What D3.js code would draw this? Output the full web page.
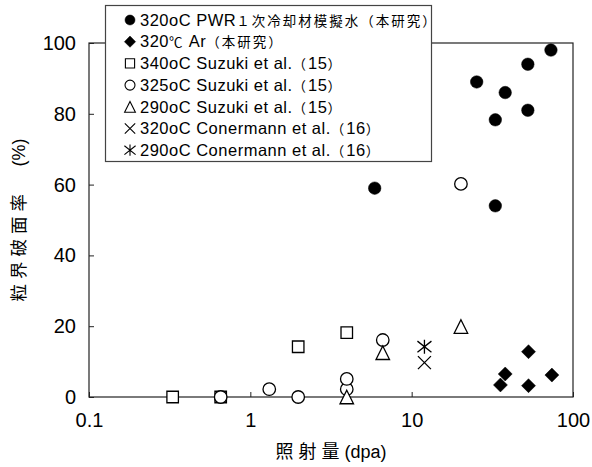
<!DOCTYPE html>
<html>
<head>
<meta charset="utf-8">
<script src="https://cdn.jsdelivr.net/npm/d3@7"></script>
<style>
  body { margin: 0; background: #fff; }
  svg { display: block; }
</style>
</head>
<body>
<svg id="chart"></svg>
<script>
// data
const pwrX = [5.9, 25.3, 33, 33, 38, 52.5, 52.5, 73]
const pwrY = [59, 89, 54, 78.3, 86, 94, 81, 98]
const arX = [35.5, 38, 53, 53, 74]
const arY = [3.4, 6.5, 12.8, 3.2, 6.2]
const suz340X = [0.33, 0.655, 1.98, 3.96]
const suz340Y = [0, 0, 14.2, 18.2]
const suz325X = [0.655, 1.31, 1.98, 3.96, 3.96, 6.62, 20.2]
const suz325Y = [0, 2.2, 0, 2.2, 5.1, 16.1, 60.2]
const suz290X = [3.96, 6.62, 20.2]
const suz290Y = [0, 12.5, 19.9]
const con320X = [12]
const con320Y = [9.7]
const con290X = [12]
const con290Y = [14.2]

const xTicks = [0.1, 1, 10, 100]
const yTicks = [0, 20, 40, 60, 80, 100]
const legendLabels = [
  "320oC PWR１次冷却材模擬水（本研究）",
  "320℃ Ar（本研究）",
  "340oC Suzuki et al.（15）",
  "325oC Suzuki et al.（15）",
  "290oC Suzuki et al.（15）",
  "320oC Conermann et al.（16）",
  "290oC Conermann et al.（16）"
]
const xTitle = "照射量(dpa)"
const yTitle = "粒界破面率　(%)"

const width = 592, height = 467
const margin = ({top: 43, right: 19, bottom: 70, left: 89})
const latin = "'Liberation Sans', Arial, sans-serif"
const cjk = "'Noto Sans CJK JP', sans-serif"

const series = [
  {x: pwrX, y: pwrY, shape: "circle", filled: true},
  {x: arX, y: arY, shape: "diamond", filled: true},
  {x: suz340X, y: suz340Y, shape: "square", filled: false},
  {x: suz325X, y: suz325Y, shape: "circle", filled: false},
  {x: suz290X, y: suz290Y, shape: "triangle", filled: false},
  {x: con320X, y: con320Y, shape: "cross", filled: false},
  {x: con290X, y: con290Y, shape: "star", filled: false}
]

const x = d3.scaleLog()
    .domain([0.1, 100])
    .range([margin.left, width - margin.right])

const y = d3.scaleLinear()
    .domain([0, 100])
    .range([height - margin.bottom, margin.top])

// marker outlines, s = full size in px
function shape(type, s) {
  const h = s / 2
  if (type === "circle") return d3.arc()({innerRadius: 0, outerRadius: h, startAngle: 0, endAngle: 2 * Math.PI})
  if (type === "square") return `M${-h},${-h}H${h}V${h}H${-h}Z`
  if (type === "diamond") return `M0,${-h}L${h},0L0,${h}L${-h},0Z`
  if (type === "triangle") return `M0,${-h}L${h},${h}L${-h},${h}Z`
  if (type === "cross") return `M${-h},${-h}L${h},${h}M${h},${-h}L${-h},${h}`
  // asterisk: X plus vertical bar
  return `M${-h},${-h * 0.8}L${h},${h * 0.8}M${h},${-h * 0.8}L${-h},${h * 0.8}M0,${-h}V${h}`
}
const sizes = {circle: 12.5, square: 11.5, diamond: 14, triangle: 13.5, cross: 13, star: 14}

const svg = d3.select("#chart")
    .attr("width", width)
    .attr("height", height)
    .attr("viewBox", [0, 0, width, height])

// frame
svg.append("rect")
    .attr("x", x(0.1))
    .attr("y", y(100))
    .attr("width", x(100) - x(0.1))
    .attr("height", y(0) - y(100))
    .attr("fill", "none")
    .attr("stroke", "#222")
    .attr("stroke-width", 1.2)

const xAxis = g => g
    .attr("transform", `translate(0,${y(0)})`)
    .call(d3.axisBottom(x).tickValues(xTicks).tickFormat(d => d).tickSize(-5).tickPadding(16))
    .call(g => g.select(".domain").remove())
    .call(g => g.selectAll("line").attr("stroke", "#222"))
    .attr("font-size", 20)
    .attr("font-family", latin)

const yAxis = g => g
    .attr("transform", `translate(${x(0.1)},0)`)
    .call(d3.axisLeft(y).tickValues(yTicks).tickSize(-5).tickPadding(13))
    .call(g => g.select(".domain").remove())
    .call(g => g.selectAll("line").attr("stroke", "#222"))
    .attr("font-size", 20)
    .attr("font-family", latin)

svg.append("g").call(xAxis)
svg.append("g").call(yAxis)
svg.selectAll(".tick text").attr("fill", "#000")

// points
series.forEach(s => {
  svg.append("g")
    .selectAll("path")
    .data(s.x.map((v, i) => [v, s.y[i]]))
    .join("path")
    .attr("transform", d => `translate(${x(d[0])},${y(d[1])})`)
    .attr("d", shape(s.shape, sizes[s.shape]))
    .attr("fill", s.filled ? "#000" : (s.shape === "cross" || s.shape === "star" ? "none" : "#fff"))
    .attr("stroke", "#000")
    .attr("stroke-width", s.filled ? 0.5 : 1.3)
})

// text with separate runs for Latin and CJK glyphs
function richText(sel, str, latinSize, cjkSize, cjkSpacing, latinSpacing = 0) {
  const runs = []
  for (const ch of str) {
    const isCjk = /[\u2100-\u214f\u3000-\u9fff\uff00-\uffef]/.test(ch)
    if (runs.length && runs[runs.length - 1].cjk === isCjk) runs[runs.length - 1].t += ch
    else runs.push({cjk: isCjk, t: ch})
  }
  sel.selectAll("tspan")
    .data(runs)
    .join("tspan")
    .attr("font-family", d => d.cjk ? cjk : latin)
    .attr("font-size", d => d.cjk ? cjkSize : latinSize)
    .attr("letter-spacing", d => d.cjk ? cjkSpacing : latinSpacing)
    .text(d => d.t)
}

// legend
const legend = svg.append("g")
legend.append("rect")
    .attr("x", 105.5)
    .attr("y", 5.5)
    .attr("width", 326)
    .attr("height", 156)
    .attr("fill", "#fff")
    .attr("stroke", "#444")
    .attr("stroke-width", 1.2)

const rowY = i => 20 + i * 21.7
legend.selectAll("path")
    .data(series)
    .join("path")
    .attr("transform", (d, i) => `translate(130,${rowY(i)})`)
    .attr("d", d => shape(d.shape, sizes[d.shape] * 0.8))
    .attr("fill", d => d.filled ? "#000" : "none")
    .attr("stroke", "#000")
    .attr("stroke-width", d => d.filled ? 0.5 : 1.1)

legend.selectAll("text")
    .data(legendLabels)
    .join("text")
    .attr("x", 140)
    .attr("y", (d, i) => rowY(i))
    .attr("dy", "0.36em")
    .attr("fill", "#000")
    .each(function(d) { richText(d3.select(this), d, 16.5, 13.5, 2, 0.5) })

// axis titles
svg.append("text")
    .attr("x", (x(0.1) + x(100)) / 2)
    .attr("y", 452)
    .attr("dy", "0.36em")
    .attr("text-anchor", "middle")
    .attr("fill", "#000")
    .each(function() { richText(d3.select(this), xTitle, 18, 18, 5) })

svg.append("text")
    .attr("transform", "translate(19,220) rotate(-90)")
    .attr("dy", "0.36em")
    .attr("text-anchor", "middle")
    .attr("fill", "#000")
    .each(function() { richText(d3.select(this), yTitle, 18, 17.5, 5) })
</script>
</body>
</html>
